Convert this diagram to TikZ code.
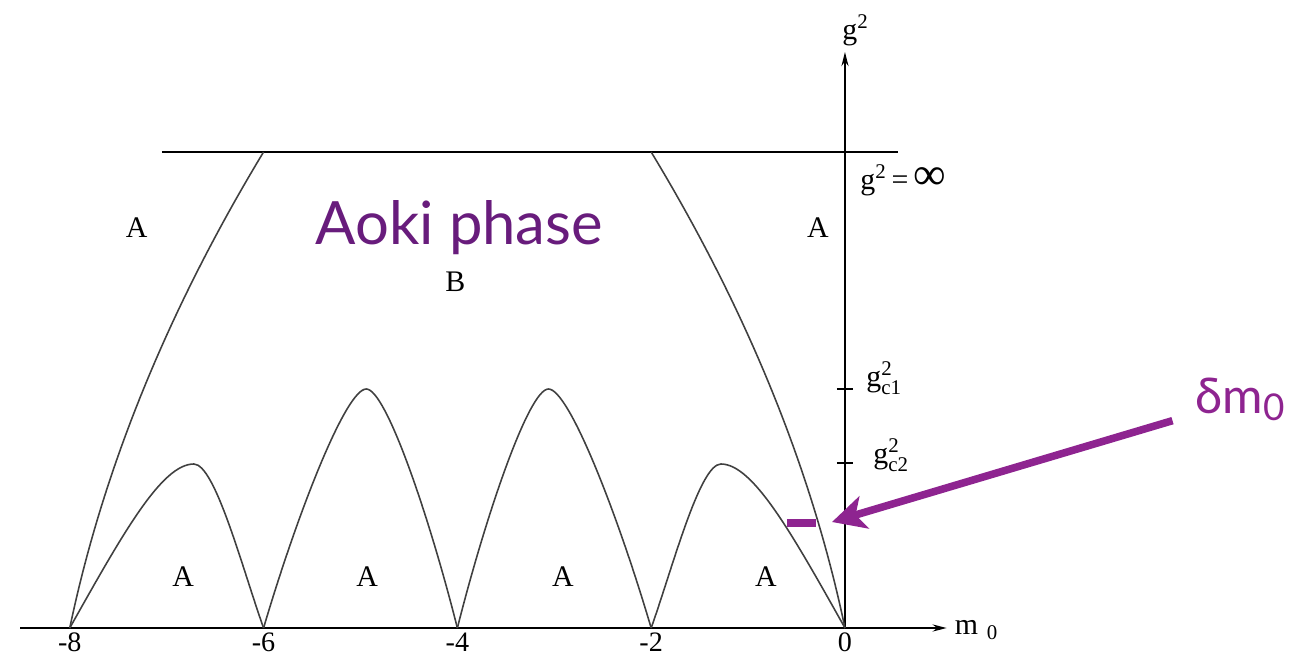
\documentclass[tikz,border=0pt]{standalone}
\usepackage{amsmath}
\usepackage{fontspec}
\setmainfont{Liberation Serif}
\newfontfamily\slidefont{Lato}
\usepackage{tikz}
\usetikzlibrary{arrows.meta}
\definecolor{aokipurple}{RGB}{104,28,124}
\definecolor{arrowpurple}{RGB}{142,36,144}

\begin{document}
\begin{tikzpicture}[x=1.938cm,y=2cm,
  axis/.style={line width=1.1pt,-{Stealth[length=8pt,width=4pt]}},
  bound/.style={black!75,line width=0.9pt},
  lbl/.style={font=\fontsize{17}{20}\selectfont,inner sep=0pt},
  ticklbl/.style={font=\fontsize{16}{19}\selectfont,inner sep=0pt,below=2.5pt}]
  \useasboundingbox (-8.72,-0.30) rectangle (4.737,6.28);
  \draw[axis](-8.51,0)--(1.05,0);
  \draw[axis](0,0)--(0,5.76);
  \draw[line width=1.1pt](-7.05,4.76)--(0.55,4.76);
  \draw[line width=1.1pt](-0.083,2.39)--(0.083,2.39);
  \draw[line width=1.1pt](-0.083,1.65)--(0.083,1.65);
  % phase boundaries
  \draw[bound] plot[domain=0:4.76,samples=40] ({-8+0.216*\x+0.0429*\x*\x},\x);
  \draw[bound] plot[domain=0:4.76,samples=40] ({-0.216*\x-0.0429*\x*\x},\x);
  \draw[bound](-8,0) .. controls (-7.45,0.95) and (-7.05,1.64) .. (-6.72,1.64)
    .. controls (-6.5,1.64) and (-6.22,0.6) .. (-6,0);
  \draw[bound](-6,0) .. controls (-5.65,1.15) and (-5.15,2.39) .. (-4.94,2.39)
    .. controls (-4.74,2.39) and (-4.30,1.15) .. (-4,0);
  \draw[bound](-4,0) .. controls (-3.70,1.15) and (-3.26,2.39) .. (-3.06,2.39)
    .. controls (-2.85,2.39) and (-2.35,1.15) .. (-2,0);
  \draw[bound](-2,0) .. controls (-1.78,0.6) and (-1.5,1.64) .. (-1.28,1.64)
    .. controls (-0.95,1.64) and (-0.55,0.95) .. (0,0);
  % axis labels
  \node[ticklbl] (t8) at (-8,0) {-8};
  \node[ticklbl] (t6) at (-6,0) {-6};
  \node[ticklbl] (t4) at (-4,0) {-4};
  \node[ticklbl] (t2) at (-2,0) {-2};
  \node[ticklbl] (t0) at (0,0) {0};
  \node[lbl,anchor=west] (mlbl) at (1.13,-0.02) {$\text{m}_{\hspace{5pt}\text{0}}$};
  \node[lbl,anchor=south] (glbl) at (0.11,5.82) {$\text{g}^{\text{2}}$};
  \node[lbl,anchor=west] (ginf) at (0.155,4.48) {$\text{g}^{\text{2}}$\,=\,{\fontsize{26}{26}\selectfont ∞}};
  \node[lbl,anchor=west] (gcone) at (0.217,2.50) {$\text{g}^{\text{2}}_{\text{c1}}$};
  \node[lbl,anchor=west] (gctwo) at (0.289,1.73) {$\text{g}^{\text{2}}_{\text{c2}}$};
  % phases
  \node[lbl] (aleft) at (-7.31,4.0) {A};
  \node[lbl] (aright) at (-0.28,4.0) {A};
  \node[lbl] (bmid) at (-4.02,3.46) {B};
  \foreach \x [count=\i] in {-6.83,-4.93,-2.91,-0.815}
    \node[lbl] (a\i) at (\x,0.51) {A};
  \node[text=aokipurple,font=\slidefont\fontsize{34}{38}\selectfont,inner sep=0pt,anchor=base] (aoki) at (-3.98,3.83) {Aoki phase};
  % delta m_0 marker
  \draw[arrowpurple,line width=4pt](-0.60,1.05)--(-0.30,1.05);
  \coordinate (tip) at (-0.134,1.06);
  \node[text=arrowpurple,font=\slidefont\fontsize{28}{32}\selectfont,inner xsep=13pt,inner ysep=0pt,anchor=base west] (dm) at (3.38,2.15) {δm\raisebox{-4pt}{\fontsize{21}{24}\selectfont 0}};
  \draw[arrowpurple,line width=4.3pt,-{Stealth[length=19pt,width=19pt,inset=5pt]}](dm.south west)--(tip);
\end{tikzpicture}
\end{document}
